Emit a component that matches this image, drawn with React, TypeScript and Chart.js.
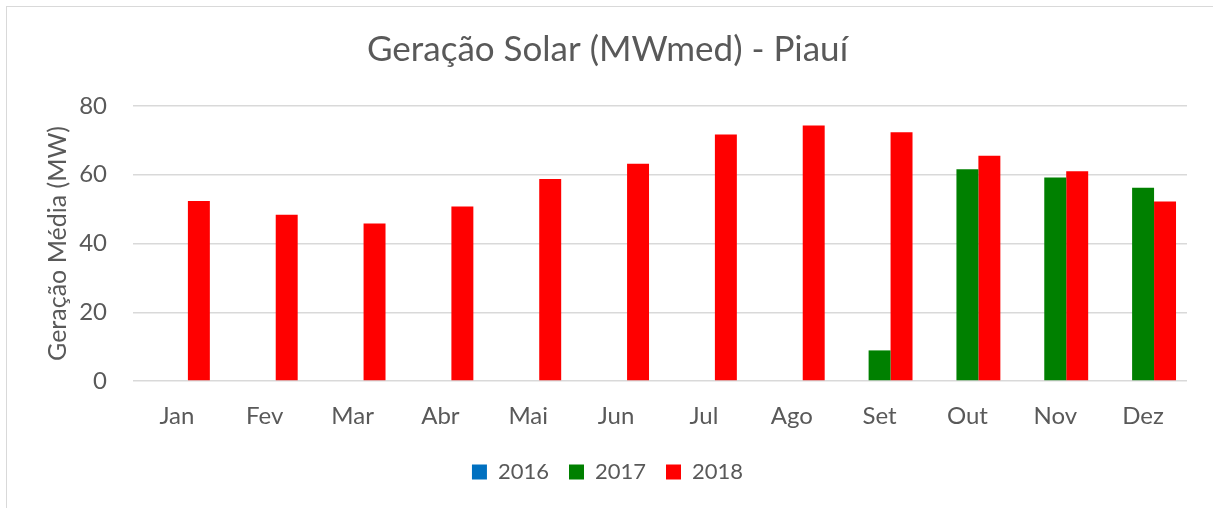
import React, { useEffect, useRef } from "react";
import { Chart, registerables } from "chart.js";

Chart.register(...registerables);

const categories = ["Jan", "Fev", "Mar", "Abr", "Mai", "Jun", "Jul", "Ago", "Set", "Out", "Nov", "Dez"];
const series2016: (number | null)[] = [null, null, null, null, null, null, null, null, null, null, null, null];
const series2017: (number | null)[] = [null, null, null, null, null, null, null, null, 8.9, 61.6, 59.2, 56.2];
const series2018: (number | null)[] = [52.4, 48.4, 45.8, 50.8, 58.8, 63.2, 71.7, 74.3, 72.4, 65.5, 61.0, 52.2];
const yTicks = [0, 20, 40, 60, 80];

const FONT = "Lato, 'Open Sans', sans-serif";
const TEXT = "#595959";

export default function App() {
  const ref = useRef<HTMLCanvasElement | null>(null);

  useEffect(() => {
    document.body.style.margin = "0";
    const canvas = ref.current;
    if (!canvas) return;
    const chart = new Chart(canvas, {
      type: "bar",
      data: {
        labels: categories,
        datasets: [
          { label: "2016", data: series2016, backgroundColor: "#0070C0" },
          { label: "2017", data: series2017, backgroundColor: "#008000" },
          { label: "2018", data: series2018, backgroundColor: "#FF0000" },
        ],
      },
      options: {
        animation: false,
        responsive: false,
        maintainAspectRatio: false,
        layout: { padding: { left: 28, right: 26, top: 0, bottom: 15 } },
        datasets: { bar: { categoryPercentage: 0.75, barPercentage: 1.0 } },
        scales: {
          x: {
            grid: { display: false, drawTicks: false },
            border: { display: false },
            ticks: { color: TEXT, font: { family: FONT, size: 24 }, padding: 21 },
            afterFit: (scale: any) => {
              scale.height = 60;
            },
          },
          y: {
            min: 0,
            max: 80,
            afterBuildTicks: (scale: any) => {
              scale.ticks = yTicks.map((v) => ({ value: v }));
            },
            afterFit: (scale: any) => {
              scale.width = 105;
            },
            grid: { color: "#d9d9d9", lineWidth: 1.5, drawTicks: false },
            border: { display: false },
            ticks: { color: TEXT, font: { family: FONT, size: 24 }, padding: 26 },
            title: {
              display: true,
              text: "Geração Média (MW)",
              color: TEXT,
              font: { family: FONT, size: 25 },
              padding: { top: 15, bottom: 6 },
            },
          },
        },
        plugins: {
          title: {
            display: true,
            text: "Geração Solar (MWmed) - Piauí",
            color: TEXT,
            font: { family: FONT, size: 35, weight: "normal" },
            padding: { top: 29, bottom: 35 },
          },
          legend: {
            position: "bottom",
            labels: {
              color: TEXT,
              font: { family: FONT, size: 22 },
              boxWidth: 15,
              boxHeight: 15,
              padding: 20,
            },
          },
          tooltip: { enabled: false },
        },
      },
    });
    return () => chart.destroy();
  }, []);

  return (
    <div style={{ position: "relative", width: 1213, height: 508 }}>
      <div
        style={{
          position: "absolute",
          left: 6,
          top: 6,
          width: 1210,
          height: 510,
          border: "1.5px solid #d9d9d9",
          boxSizing: "border-box",
        }}
      />
      <canvas ref={ref} width={1213} height={508} style={{ position: "absolute", left: 0, top: 0 }} />
    </div>
  );
}
